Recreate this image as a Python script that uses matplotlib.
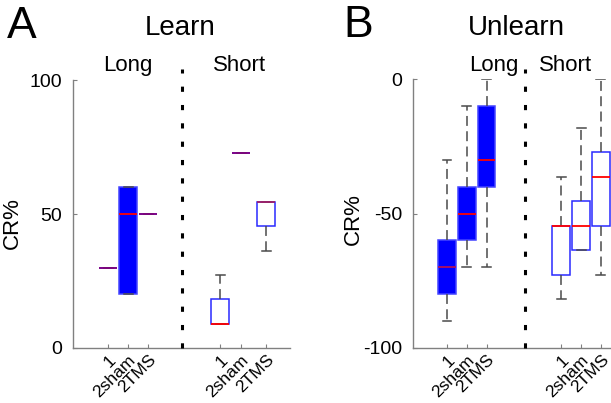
import matplotlib
matplotlib.use("Agg")
import matplotlib.pyplot as plt

plt.rcParams['font.family'] = ['Liberation Sans', 'DejaVu Sans']
plt.rcParams['axes.unicode_minus'] = False

groups = ['1', '2sham', '2TMS']

# Learn (panel A)
learn_long_q1 = [30, 20, 50]
learn_long_med = [30, 50, 50]
learn_long_q3 = [30, 60, 50]
learn_long_lo = [30, 20, 50]
learn_long_hi = [30, 60, 50]

learn_short_q1 = [9.09, 72.73, 45.45]
learn_short_med = [9.09, 72.73, 54.55]
learn_short_q3 = [18.18, 72.73, 54.55]
learn_short_lo = [9.09, 72.73, 36.36]
learn_short_hi = [27.27, 72.73, 54.55]

# Unlearn (panel B)
unlearn_long_q1 = [-80, -60, -40]
unlearn_long_med = [-70, -50, -30]
unlearn_long_q3 = [-60, -40, -10]
unlearn_long_lo = [-90, -70, -70]
unlearn_long_hi = [-30, -10, 0]

unlearn_short_q1 = [-72.73, -63.64, -54.55]
unlearn_short_med = [-54.55, -54.55, -36.36]
unlearn_short_q3 = [-54.55, -45.45, -27.27]
unlearn_short_lo = [-81.82, -63.64, -72.73]
unlearn_short_hi = [-36.36, -18.18, 0]

W, H = 611, 403
fig = plt.figure(figsize=(W / 100, H / 100), dpi=100)


def make_stats(q1, med, q3, lo, hi):
    return [dict(q1=a, med=b, q3=c, whislo=d, whishi=e, fliers=[])
            for a, b, c, d, e in zip(q1, med, q3, lo, hi)]


def axes_px(l, r, t, b):
    return fig.add_axes([l / W, 1 - b / H, (r - l) / W, (b - t) / H])


whisk = '#4a4a4a'


def draw_panel(ax, long_stats, short_stats, pos_long, pos_short, sep, xlim, ylim,
               yticks, med_long, med_short, ytop):
    for stats, pos, filled, medc in [(long_stats, pos_long, True, med_long),
                                     (short_stats, pos_short, False, med_short)]:
        bp = ax.bxp(stats, positions=pos, widths=0.9, showfliers=False,
                    patch_artist=True, capwidths=0.45,
                    boxprops=dict(facecolor='#0000FF' if filled else 'white',
                                  edgecolor='#4444FF' if filled else '#2a2aFF',
                                  linewidth=1.1),
                    whiskerprops=dict(color=whisk, linewidth=1.1,
                                      linestyle=(0, (6.5, 3.5))),
                    capprops=dict(color=whisk, linewidth=1.1),
                    medianprops=dict(color='red', linewidth=1.3, zorder=5))
        for m, c in zip(bp['medians'], medc):
            m.set_color(c)
    ax.plot([sep, sep], [ylim[0], ytop], color='black', lw=2.2,
            linestyle=(0, (1.7, 4.3)), clip_on=False, zorder=6)
    ax.set_xlim(*xlim)
    ax.set_ylim(*ylim)
    ax.set_yticks(yticks)
    ax.set_xticks(list(pos_long) + list(pos_short))
    ax.set_xticklabels(groups + groups, rotation=45, ha='right', va='top',
                       rotation_mode='anchor', fontsize=12.5)
    for s in ['top', 'right']:
        ax.spines[s].set_visible(False)
    for s in ['left', 'bottom']:
        ax.spines[s].set_color('#808080')
        ax.spines[s].set_linewidth(1.0)
    ax.tick_params(direction='in', length=3, color='#808080', labelsize=14)
    ax.tick_params(axis='y', pad=8)
    ax.tick_params(axis='x', pad=3, labelsize=12.5)
    ax.set_ylabel('CR%', fontsize=16)


# Panel A
axA = axes_px(73, 290, 80, 348)
draw_panel(axA,
           make_stats(learn_long_q1, learn_long_med, learn_long_q3, learn_long_lo, learn_long_hi),
           make_stats(learn_short_q1, learn_short_med, learn_short_q3, learn_short_lo, learn_short_hi),
           [1, 2, 3], [6.6, 7.65, 8.9], 4.7, (-0.75, 10.1), (0, 100), [0, 50, 100],
           ['#800080', 'red', '#800080'], ['red', '#800080', '#A0206A'], 104.1)
axA.yaxis.set_label_coords(-50 / 217, 0.465)

# Panel B
axB = axes_px(413, 625, 79, 348)
draw_panel(axB,
           make_stats(unlearn_long_q1, unlearn_long_med, unlearn_long_q3, unlearn_long_lo, unlearn_long_hi),
           make_stats(unlearn_short_q1, unlearn_short_med, unlearn_short_q3, unlearn_short_lo, unlearn_short_hi),
           [1, 2, 3], [6.78, 7.78, 8.78], 4.94, (-0.72, 10.0), (-100, 0), [-100, -50, 0],
           ['#B0105A', 'red', 'red'], ['red', 'red', 'red'], 3.7)
axB.yaxis.set_label_coords(-49 / 212, 0.48)


def ftext(x, y, s, size, ha='center'):
    fig.text(x / W, 1 - y / H, s, fontsize=size, ha=ha, va='baseline')


ftext(7, 38, 'A', 32, ha='left')
ftext(180, 35, 'Learn', 20)
ftext(128, 71, 'Long', 16)
ftext(240, 71, 'Short', 16)
ftext(343, 37, 'B', 32, ha='left')
ftext(516, 35, 'Unlearn', 20)
ftext(494, 71, 'Long', 16)
ftext(566, 71, 'Short', 16)

fig.savefig('out.png', dpi=100)
